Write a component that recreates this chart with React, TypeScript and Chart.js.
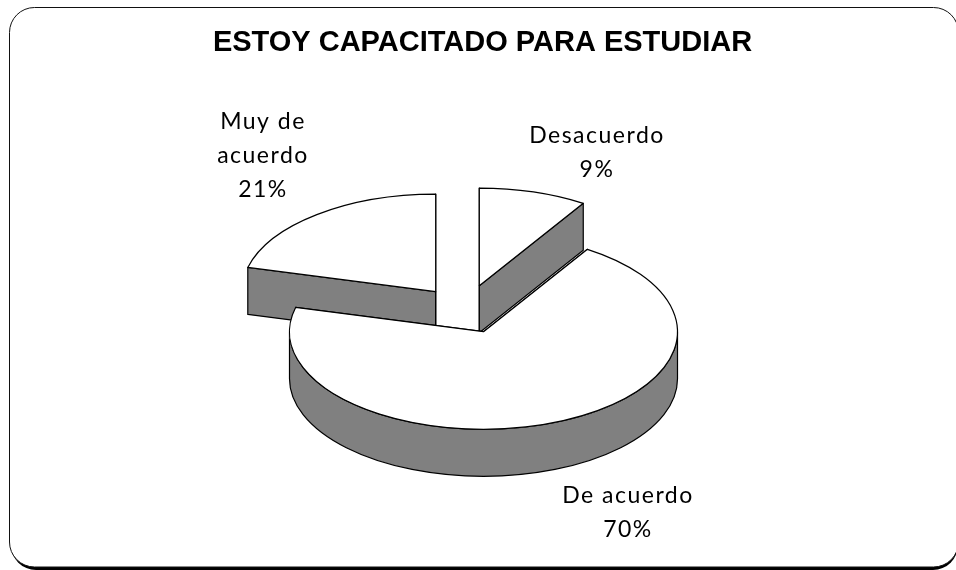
import React, { useEffect, useRef } from "react";
import { Chart, registerables } from "chart.js";

Chart.register(...registerables);

const chartTitle = "ESTOY CAPACITADO PARA ESTUDIAR";
const categories = ["Desacuerdo", "De acuerdo", "Muy de acuerdo"];
const values = [9, 70, 21];
const labelLines = [["Desacuerdo"], ["De acuerdo"], ["Muy de", "acuerdo"]];

const sliceCentres = [
  { x: 479.3, y: 285.7 },
  { x: 483.5, y: 331.7 },
  { x: 435.7, y: 291.7 },
];
const labelAnchors = [
  { x: 597, y: 136 },
  { x: 628, y: 496 },
  { x: 263, y: 122 },
];
const drawOrder = [0, 2, 1];
const RADIUS = 194;
const SQUASH = 0.503;
const DEPTH = 47;
const LINE_H = 34;
const WALL = "#808080";

const frameAndPie = {
  id: "frameAndPie",
  beforeDraw(chart: any) {
    const ctx = chart.ctx;
    ctx.save();
    ctx.fillStyle = "#ffffff";
    ctx.fillRect(0, 0, chart.width, chart.height);
    ctx.fillStyle = "#000000";
    ctx.beginPath();
    ctx.roundRect(11, 10, 947, 560, 25);
    ctx.fill();
    ctx.fillStyle = "#ffffff";
    ctx.strokeStyle = "#111111";
    ctx.lineWidth = 1;
    ctx.beginPath();
    ctx.roundRect(9.5, 7.5, 949, 559.5, 25);
    ctx.fill();
    ctx.stroke();
    ctx.restore();
  },
  beforeDatasetsDraw(chart: any) {
    const ctx = chart.ctx;
    const meta = chart.getDatasetMeta(0);
    for (const i of drawOrder) {
      const arc = meta.data[i];
      const { x, y, startAngle: a, endAngle: b, outerRadius } = arc.getProps(
        ["x", "y", "startAngle", "endAngle", "outerRadius"],
        true,
      );
      const r = outerRadius;
      const ry = r * SQUASH;
      const c = sliceCentres[i];
      const px = (t: number) => c.x + r * Math.cos(t);
      const py = (t: number) => c.y + ry * Math.sin(t);
      ctx.save();
      ctx.lineWidth = 1.2;
      ctx.strokeStyle = "#000000";
      ctx.fillStyle = WALL;
      ctx.lineJoin = "round";
      for (const t of [a, b]) {
        ctx.beginPath();
        ctx.moveTo(c.x, c.y);
        ctx.lineTo(px(t), py(t));
        ctx.lineTo(px(t), py(t) + DEPTH);
        ctx.lineTo(c.x, c.y + DEPTH);
        ctx.closePath();
        ctx.fill();
        ctx.stroke();
      }
      const lo = Math.max(a, 0);
      const hi = Math.min(b, Math.PI);
      if (hi > lo) {
        ctx.beginPath();
        ctx.ellipse(c.x, c.y, r, ry, 0, lo, hi);
        ctx.ellipse(c.x, c.y + DEPTH, r, ry, 0, hi, lo, true);
        ctx.closePath();
        ctx.fill();
        ctx.stroke();
      }
      ctx.save();
      ctx.translate(c.x, c.y);
      ctx.scale(1, SQUASH);
      ctx.translate(-x, -y);
      arc.draw(ctx);
      ctx.restore();
      ctx.beginPath();
      ctx.moveTo(c.x, c.y);
      ctx.ellipse(c.x, c.y, r, ry, 0, a, b);
      ctx.closePath();
      ctx.stroke();
      ctx.restore();
    }
    return false;
  },
  afterDraw(chart: any) {
    const ctx = chart.ctx;
    const total = values.reduce((s, v) => s + v, 0);
    ctx.save();
    ctx.fillStyle = "#000000";
    ctx.font = "23px Lato";
    ctx.textAlign = "center";
    ctx.textBaseline = "middle";
    ctx.letterSpacing = "1.5px";
    values.forEach((v, i) => {
      const lines = [...labelLines[i], `${Math.round((v / total) * 100)}%`];
      lines.forEach((t, k) => {
        ctx.fillText(t, labelAnchors[i].x, labelAnchors[i].y + k * LINE_H);
      });
    });
    ctx.restore();
  },
};

export default function App() {
  const ref = useRef<HTMLCanvasElement>(null);
  useEffect(() => {
    const chart = new Chart(ref.current!, {
      type: "pie",
      data: {
        labels: categories,
        datasets: [
          {
            data: values,
            backgroundColor: "#ffffff",
            borderWidth: 0,
            radius: RADIUS,
          },
        ],
      },
      options: {
        responsive: false,
        animation: false,
        layout: { padding: { left: 9 } },
        plugins: {
          legend: { display: false },
          tooltip: { enabled: false },
          title: {
            display: true,
            text: chartTitle,
            color: "#000000",
            font: { family: "'Liberation Sans'", size: 29, weight: "bold" },
            padding: { top: 26, bottom: 8 },
          },
        },
      },
      plugins: [frameAndPie],
    } as any);
    return () => chart.destroy();
  }, []);
  return (
    <div style={{ position: "absolute", left: 0, top: 0, width: 956, height: 570, overflow: "hidden" }}>
      <canvas ref={ref} width={956} height={570} style={{ display: "block" }} />
    </div>
  );
}
